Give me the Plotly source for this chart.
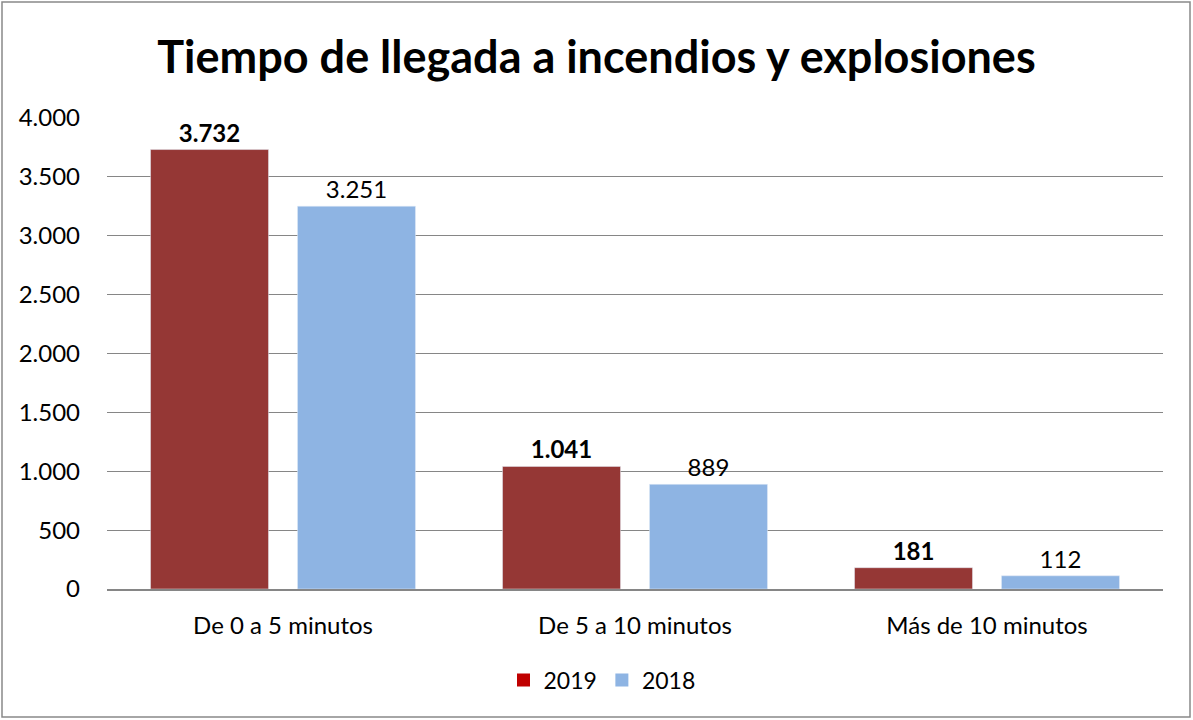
import plotly.graph_objects as go

categories = ["De 0 a 5 minutos", "De 5 a 10 minutos", "Más de 10 minutos"]
values_2019 = [3732, 1041, 181]
values_2018 = [3251, 889, 112]
series_names = ["2019", "2018"]
y_ticks = [0, 500, 1000, 1500, 2000, 2500, 3000, 3500, 4000]

bar_colors = ["#953735", "#8EB4E3"]
legend_colors = ["#C00000", "#8EB4E3"]
FONT = "Lato"

fig = go.Figure()
fig.add_trace(go.Bar(
    x=categories, y=values_2019, name=series_names[0], marker_color=bar_colors[0],
    texttemplate="<b>%{y:,}</b>", textposition="outside", cliponaxis=False,
    textfont=dict(size=24, color="#000000", family=FONT), showlegend=False,
))
fig.add_trace(go.Bar(
    x=categories, y=values_2018, name=series_names[1], marker_color=bar_colors[1],
    texttemplate="%{y:,}", textposition="outside", cliponaxis=False,
    textfont=dict(size=24, color="#000000", family=FONT), showlegend=False,
))
for name, col in zip(series_names, legend_colors):
    fig.add_trace(go.Scatter(
        x=[None], y=[None], mode="markers", name=name,
        marker=dict(symbol="square", size=13, color=col),
    ))

L, R, T, B = 107, 30, 118, 131
W, H = 1193, 720
pw, ph = W - L - R, H - T - B

def px_x(p):
    return (p - L) / pw

def px_y(p):
    return (H - B - p) / ph

fig.add_shape(type="rect", xref="paper", yref="paper",
              x0=px_x(2), x1=px_x(1190), y0=px_y(717), y1=px_y(2),
              line=dict(color="#898989", width=1.5), fillcolor="rgba(0,0,0,0)", layer="below")

fig.update_layout(
    width=W, height=H,
    margin=dict(l=L, r=R, t=T, b=B),
    paper_bgcolor="white", plot_bgcolor="white",
    separators=",.",
    barmode="group", bargap=0.165, bargroupgap=0.197,
    font=dict(family=FONT, size=24, color="#000000"),
    title=dict(text="<b>Tiempo de llegada a incendios y explosiones</b>",
               x=0.5, xanchor="center", y=1 - 57 / H, yanchor="middle",
               yref="container", font=dict(size=45, family=FONT, color="#000000")),
    xaxis=dict(showgrid=False, showline=True, linecolor="#868686", linewidth=1.5,
               ticks="", tickfont=dict(size=24, family=FONT), ticklabelstandoff=14),
    yaxis=dict(range=[0, 4000], tickvals=y_ticks, tickformat=",d",
               showgrid=True, gridcolor="#868686", gridwidth=1,
               zeroline=False, showline=False, ticks="",
               tickfont=dict(size=24, family=FONT), ticklabelstandoff=26),
    legend=dict(orientation="h", x=px_x(602), xanchor="center",
                y=px_y(680), yanchor="middle",
                font=dict(size=23, family=FONT), itemwidth=30, traceorder="normal"),
)

fig.write_html("out.html", post_script="document.body.style.margin='0';",
               config={"displayModeBar": False})
